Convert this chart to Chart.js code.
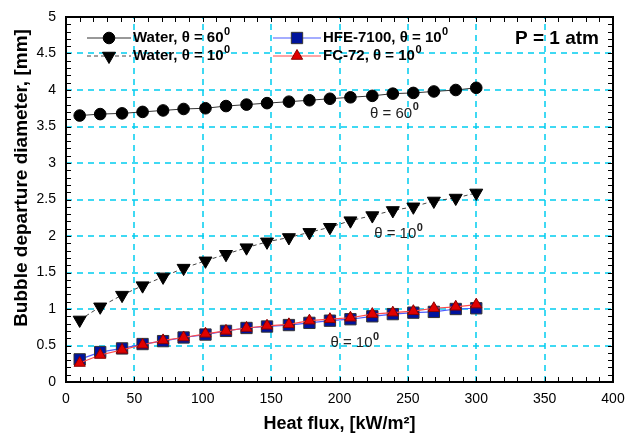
<!DOCTYPE html>
<html>
<head>
<meta charset="utf-8">
<script src="https://cdn.jsdelivr.net/npm/chart.js@4.4.1/dist/chart.umd.min.js"></script>
<style>
html,body{margin:0;padding:0;background:#fff;}
#wrap{width:628px;height:436px;position:relative;}
</style>
</head>
<body>
<div id="wrap"><canvas id="c" width="628" height="436"></canvas></div>
<script>
// ---- data ----
const heatFlux = [10, 25, 41, 56, 71, 86, 102, 117, 132, 147, 163, 178, 193, 208, 224, 239, 254, 269, 285, 300];
const water60 = [3.65, 3.67, 3.68, 3.70, 3.72, 3.74, 3.75, 3.78, 3.80, 3.82, 3.84, 3.86, 3.88, 3.90, 3.92, 3.95, 3.96, 3.98, 4.00, 4.03];
const water10 = [0.85, 1.03, 1.19, 1.32, 1.44, 1.56, 1.66, 1.75, 1.84, 1.92, 1.98, 2.05, 2.12, 2.21, 2.28, 2.35, 2.40, 2.48, 2.52, 2.59];
const hfe7100 = [0.31, 0.41, 0.46, 0.52, 0.56, 0.61, 0.65, 0.70, 0.74, 0.76, 0.78, 0.81, 0.84, 0.86, 0.90, 0.93, 0.95, 0.96, 1.00, 1.01];
const fc72    = [0.26, 0.37, 0.44, 0.51, 0.57, 0.61, 0.66, 0.70, 0.74, 0.77, 0.79, 0.84, 0.86, 0.88, 0.93, 0.95, 0.97, 1.01, 1.03, 1.06];
const xTicks = [0, 50, 100, 150, 200, 250, 300, 350, 400];
const yTicks = [0, 0.5, 1, 1.5, 2, 2.5, 3, 3.5, 4, 4.5, 5];
const seriesNames = ['Water, \u03B8 = 60', 'Water, \u03B8 = 10', 'HFE-7100, \u03B8 = 10', 'FC-72, \u03B8 = 10'];
const annotations = [
  {text: '\u03B8 = 60', x: 240, y: 3.68},
  {text: '\u03B8 = 10', x: 243, y: 2.03},
  {text: '\u03B8 = 10', x: 211, y: 0.53}
];
const pressureLabel = 'P = 1 atm';
const yTitle = 'Bubble departure diameter, [mm]';

const toPts = arr => arr.map((v, i) => ({x: heatFlux[i], y: v}));

const styles = [
  {line: '#333333', dash: [], fill: '#000000', border: '#000000', shape: 'circle', r: 5.8, rot: 0, lw: 1, order: 3},
  {line: '#444444', dash: [4, 3], fill: '#000000', border: '#000000', shape: 'triangle', r: 7.5, rot: 180, lw: 1, order: 4},
  {line: '#4a5cff', dash: [], fill: '#00139c', border: '#333333', shape: 'rect', r: 8, rot: 0, lw: 1.2, order: 2},
  {line: '#ff4a4a', dash: [], fill: '#e00000', border: '#8a0000', shape: 'triangle', r: 6.5, rot: 0, lw: 1.2, order: 1}
];
const dataArrays = [water60, water10, hfe7100, fc72];

function richText(ctx, x, y, base, sup, font, supFont, align) {
  ctx.font = font;
  const wb = ctx.measureText(base).width;
  ctx.font = supFont;
  const ws = ctx.measureText(sup).width;
  let sx = x;
  if (align === 'center') sx = x - (wb + ws) / 2;
  ctx.textAlign = 'left';
  ctx.textBaseline = 'middle';
  ctx.font = font;
  ctx.fillText(base, sx, y);
  ctx.font = supFont;
  ctx.fillText(sup, sx + wb + 0.5, y - 6);
}

function drawMarker(ctx, s, cx, cy) {
  ctx.save();
  ctx.fillStyle = s.fill; ctx.strokeStyle = s.border; ctx.lineWidth = 1;
  Chart.helpers.drawPoint(ctx, {pointStyle: s.shape, radius: s.r, rotation: s.rot, borderWidth: 1}, cx, cy);
  ctx.restore();
}

const gridPlugin = {
  id: 'gridPlugin',
  beforeDatasetsDraw(chart) {
    const {ctx, chartArea: a, scales: {x, y}} = chart;
    ctx.save();
    ctx.strokeStyle = 'rgb(0,205,240)';
    ctx.lineWidth = 1.5;
    ctx.setLineDash([6, 5]);
    ctx.beginPath();
    xTicks.forEach(v => {
      const px = Math.round(x.getPixelForValue(v));
      ctx.moveTo(px, a.bottom); ctx.lineTo(px, a.top);
    });
    yTicks.forEach(v => {
      const py = Math.round(y.getPixelForValue(v));
      ctx.moveTo(a.left, py); ctx.lineTo(a.right, py);
    });
    ctx.stroke();
    ctx.restore();
  }
};

const overlay = {
  id: 'overlay',
  afterDatasetsDraw(chart) {
    const {ctx, chartArea: a, scales: {x, y}} = chart;
    ctx.save();
    // minor ticks
    ctx.strokeStyle = '#000';
    ctx.lineWidth = 1;
    ctx.beginPath();
    for (let v = 0; v <= 400; v += 10) {
      const px = Math.round(x.getPixelForValue(v)) + 0.5;
      ctx.moveTo(px, a.bottom); ctx.lineTo(px, a.bottom - 5);
      ctx.moveTo(px, a.top); ctx.lineTo(px, a.top + 5);
    }
    for (let k = 0; k <= 50; k++) {
      const py = Math.round(y.getPixelForValue(k / 10)) + 0.5;
      ctx.moveTo(a.left, py); ctx.lineTo(a.left + 5, py);
      ctx.moveTo(a.right, py); ctx.lineTo(a.right - 5, py);
    }
    ctx.stroke();
    // frame
    ctx.lineWidth = 2;
    ctx.strokeRect(a.left, a.top, a.right - a.left, a.bottom - a.top);

    // y title
    ctx.save();
    ctx.translate(22, 178);
    ctx.rotate(-Math.PI / 2);
    ctx.fillStyle = '#000';
    ctx.font = 'bold 19px "Liberation Sans", Arial, sans-serif';
    ctx.textAlign = 'center';
    ctx.textBaseline = 'middle';
    ctx.fillText(yTitle, 0, 0);
    ctx.restore();

    // annotations
    ctx.fillStyle = '#222';
    annotations.forEach(an => {
      richText(ctx, x.getPixelForValue(an.x), y.getPixelForValue(an.y), an.text, '0',
        '15px "Liberation Sans", Arial, sans-serif', 'bold 11px "Liberation Sans", Arial, sans-serif', 'center');
    });

    // legend
    const legendPos = [
      {x0: 87, x1: 131, y: 38},
      {x0: 87, x1: 131, y: 56},
      {x0: 273, x1: 321, y: 38},
      {x0: 273, x1: 321, y: 56}
    ];
    legendPos.forEach((p, i) => {
      const s = styles[i];
      ctx.strokeStyle = s.line;
      ctx.lineWidth = s.lw;
      ctx.setLineDash(s.dash);
      ctx.beginPath();
      ctx.moveTo(p.x0, p.y); ctx.lineTo(p.x1, p.y);
      ctx.stroke();
      ctx.setLineDash([]);
      drawMarker(ctx, s, (p.x0 + p.x1) / 2, p.y);
      ctx.fillStyle = '#000';
      richText(ctx, p.x1 + 2, p.y, seriesNames[i], '0',
        'bold 15px "Liberation Sans", Arial, sans-serif', 'bold 11px "Liberation Sans", Arial, sans-serif', 'left');
    });
    ctx.fillStyle = '#000';
    ctx.font = 'bold 19px "Liberation Sans", Arial, sans-serif';
    ctx.textAlign = 'left';
    ctx.textBaseline = 'middle';
    ctx.fillText(pressureLabel, 515, 39);
    ctx.restore();
  }
};

const datasets = dataArrays.map((arr, i) => {
  const s = styles[i];
  return {
    label: seriesNames[i],
    data: toPts(arr),
    order: s.order,
    borderColor: s.line,
    borderWidth: s.lw,
    borderDash: s.dash,
    pointStyle: s.shape,
    pointRadius: s.r,
    pointRotation: s.rot,
    pointBackgroundColor: s.fill,
    pointBorderColor: s.border,
    pointBorderWidth: 1,
    tension: 0,
    fill: false
  };
});

const tickFont = {family: '"Liberation Sans", Arial, sans-serif', size: 14};

new Chart(document.getElementById('c'), {
  type: 'line',
  data: {datasets},
  options: {
    responsive: false,
    animation: false,
    devicePixelRatio: 1,
    layout: {padding: {left: 0, top: 17, right: 15, bottom: 0}},
    plugins: {legend: {display: false}, tooltip: {enabled: false}},
    scales: {
      x: {
        type: 'linear', min: 0, max: 400,
        afterBuildTicks: sc => { sc.ticks = xTicks.map(v => ({value: v})); },
        ticks: {font: tickFont, color: '#000', padding: 9, maxRotation: 0, callback: v => String(v)},
        grid: {display: false, drawTicks: false, tickLength: 0},
        border: {display: false},
        title: {display: true, text: 'Heat flux, [kW/m\u00B2]',
          font: {family: '"Liberation Sans", Arial, sans-serif', size: 18, weight: 'bold'},
          color: '#000', padding: {top: 0, bottom: 1}},
        afterFit: sc => { sc.height = 54; sc.paddingRight = 0; sc.paddingLeft = 0; }
      },
      y: {
        type: 'linear', min: 0, max: 5,
        afterBuildTicks: sc => { sc.ticks = yTicks.map(v => ({value: v})); },
        ticks: {font: tickFont, color: '#000', padding: 10, callback: v => String(v)},
        grid: {display: false, drawTicks: false, tickLength: 0},
        border: {display: false},
        title: {display: false},
        afterFit: sc => { sc.width = 66; sc.paddingTop = 0; sc.paddingBottom = 0; }
      }
    }
  },
  plugins: [gridPlugin, overlay]
});
</script>
</body>
</html>
